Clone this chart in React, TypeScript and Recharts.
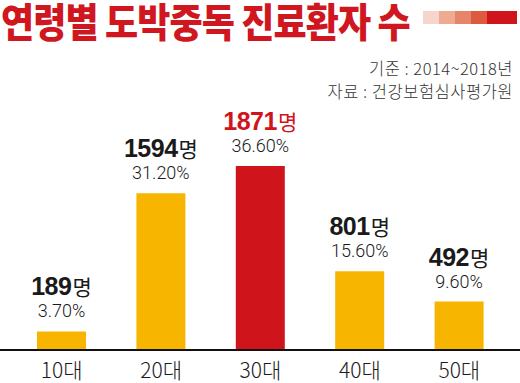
import { Bar, BarChart, Cell, LabelList, XAxis, YAxis } from 'recharts';

const ageGroups = ['10대', '20대', '30대', '40대', '50대'];
const patients = [189, 1594, 1871, 801, 492];
const shares = ['3.70%', '31.20%', '36.60%', '15.60%', '9.60%'];
const highlightIndex = 2;
const sourceLines = ['기준 : 2014~2018년', '자료 : 건강보험심사평가원'];
const stripeColors = ['#f6d6ca', '#eeab92', '#e5856a', '#dc5a3e', '#d0141c'];

const data = ageGroups.map((age, i) => ({ age, patients: patients[i], share: shares[i] }));

const YELLOW = '#f7b500';
const RED = '#cf141c';
const KR = '"Noto Sans CJK KR", sans-serif';

const AgeTick = ({ x, y, payload }: any) => (
  <text x={x} y={y + 28} textAnchor="middle" fontFamily={KR} fontWeight={300} fontSize={21} fill="#1a1a1a">
    {payload.value}
  </text>
);

const renderValueLabel = (props: any) => {
  const { x, y, width, index } = props;
  const cx = x + width / 2;
  const hot = index === highlightIndex;
  return (
    <g>
      <text x={cx} y={y - 36} textAnchor="middle" fill={hot ? RED : '#1a1a1a'}>
        <tspan fontFamily='"Liberation Sans", Arial, sans-serif' fontWeight={700} fontSize={25} letterSpacing={-0.5}>
          {patients[index]}
        </tspan>
        <tspan fontFamily={KR} fontWeight={400} fontSize={21} dx={1}>
          명
        </tspan>
      </text>
      <text x={cx} y={y - 14} textAnchor="middle" fontFamily="Roboto, sans-serif" fontWeight={300} fontSize={18} fill="#1a1a1a">
        {shares[index]}
      </text>
    </g>
  );
};

export default function App() {
  return (
    <div style={{ position: 'absolute', top: 0, left: 0, width: 520, height: 383, background: '#fff', overflow: 'hidden' }}>
      <div
        style={{
          position: 'absolute',
          top: 0,
          left: 1,
          height: 40,
          fontFamily: KR,
          fontWeight: 900,
          fontSize: 40,
          lineHeight: '40px',
          letterSpacing: -1,
          color: '#d0161e',
          whiteSpace: 'nowrap',
          transform: 'scaleX(0.9)',
          transformOrigin: 'left center',
        }}
      >
        연령별 도박중독 진료환자 수
      </div>
      <div style={{ position: 'absolute', top: 11, left: 423, display: 'flex', height: 13 }}>
        {stripeColors.map((c, i) => (
          <div key={c} style={{ width: i === stripeColors.length - 1 ? 30 : 16, height: 13, background: c }} />
        ))}
      </div>
      {sourceLines.map((line, i) => (
        <div
          key={line}
          style={{
            position: 'absolute',
            top: 57 + i * 23,
            right: 7,
            height: 23,
            lineHeight: '23px',
            fontFamily: KR,
            fontWeight: 300,
            fontSize: 16.5,
            letterSpacing: 0.5,
            color: '#333',
            whiteSpace: 'nowrap',
          }}
        >
          {line}
        </div>
      ))}
      <BarChart
        width={520}
        height={383}
        data={data}
        margin={{ top: 166, right: 0, left: 0, bottom: 0 }}
        style={{ position: 'absolute', top: 0, left: 0 }}
      >
        <XAxis
          dataKey="age"
          height={33}
          padding={{ left: 12, right: 11 }}
          axisLine={{ stroke: '#111', strokeWidth: 2 }}
          tickLine={false}
          tickSize={0}
          tickMargin={0}
          interval={0}
          tick={<AgeTick />}
        />
        <YAxis hide domain={[0, 'dataMax']} />
        <Bar dataKey="patients" barSize={49} isAnimationActive={false}>
          {data.map((d, i) => (
            <Cell key={d.age} fill={i === highlightIndex ? RED : YELLOW} />
          ))}
          <LabelList dataKey="patients" content={renderValueLabel} />
        </Bar>
      </BarChart>
    </div>
  );
}
